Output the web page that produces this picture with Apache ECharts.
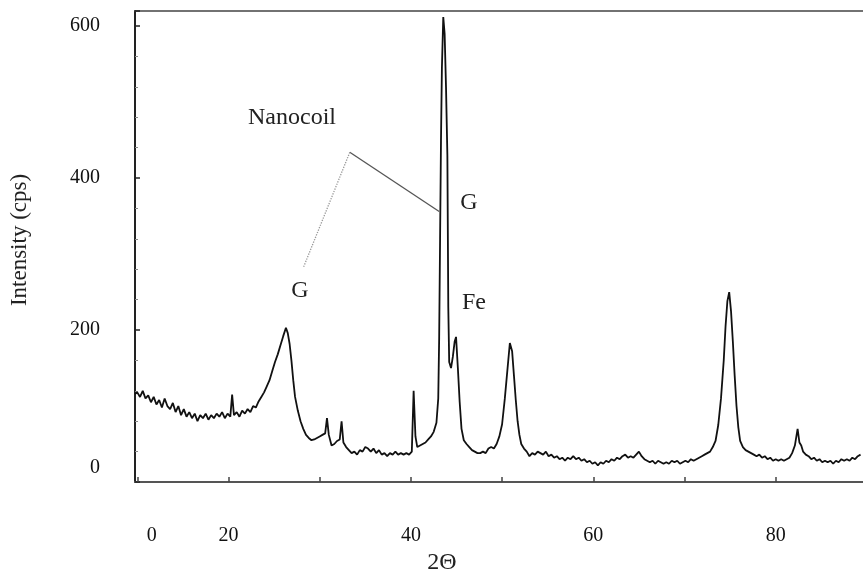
<!DOCTYPE html>
<html>
<head>
<meta charset="utf-8">
<script src="https://cdn.jsdelivr.net/npm/echarts@6/dist/echarts.min.js"></script>
<style>html,body{margin:0;padding:0;background:#fff}#c{width:863px;height:577px}</style>
</head>
<body>
<div id="c"></div>
<script>
var twoTheta = [9.75,10.0,10.3,10.6,10.9,11.2,11.5,11.8,12.1,12.4,12.7,13.0,13.3,13.6,13.9,14.2,14.5,14.8,15.1,15.4,15.7,16.0,16.3,16.6,16.9,17.2,17.5,17.8,18.1,18.4,18.7,19.0,19.3,19.6,19.9,20.2,20.4,20.6,20.9,21.2,21.5,21.8,22.1,22.4,22.7,23.0,23.3,23.6,23.9,24.2,24.5,24.8,25.1,25.4,25.7,26.0,26.3,26.5,26.7,26.9,27.1,27.3,27.6,27.9,28.2,28.5,28.8,29.1,29.4,29.7,30.0,30.3,30.6,30.8,31.0,31.3,31.6,31.9,32.2,32.4,32.6,32.9,33.2,33.5,33.8,34.1,34.4,34.7,35.0,35.3,35.6,35.9,36.2,36.5,36.8,37.1,37.4,37.7,38.0,38.3,38.6,38.9,39.2,39.5,39.8,40.1,40.3,40.5,40.7,41.0,41.3,41.6,41.9,42.2,42.5,42.8,43.0,43.1,43.2,43.3,43.4,43.55,43.7,43.85,44.0,44.1,44.2,44.4,44.6,44.8,44.95,45.15,45.35,45.55,45.8,46.1,46.4,46.7,47.0,47.3,47.6,47.9,48.2,48.5,48.8,49.1,49.4,49.7,50.0,50.3,50.6,50.85,51.1,51.3,51.5,51.7,51.9,52.1,52.4,52.7,53.0,53.3,53.6,53.9,54.2,54.5,54.8,55.1,55.4,55.7,56.0,56.3,56.6,56.9,57.2,57.5,57.8,58.1,58.4,58.7,59.0,59.3,59.6,59.9,60.2,60.5,60.8,61.1,61.4,61.7,62.0,62.3,62.6,62.9,63.2,63.5,63.8,64.1,64.4,64.7,65.0,65.3,65.6,65.9,66.2,66.5,66.8,67.1,67.4,67.7,68.0,68.3,68.6,68.9,69.2,69.5,69.8,70.1,70.4,70.7,71.0,71.3,71.6,71.9,72.2,72.5,72.8,73.1,73.4,73.7,74.0,74.3,74.5,74.7,74.9,75.1,75.3,75.5,75.7,75.9,76.1,76.4,76.7,77.0,77.3,77.6,77.9,78.2,78.5,78.8,79.1,79.4,79.7,80.0,80.3,80.6,80.9,81.2,81.5,81.8,82.1,82.4,82.6,82.8,83.0,83.3,83.6,83.9,84.2,84.5,84.8,85.1,85.4,85.7,86.0,86.3,86.6,86.9,87.2,87.5,87.8,88.1,88.4,88.7,89.0,89.3,89.57];
var intensity = [116,118,112,120,110,114,105,112,102,108,98,110,100,96,104,92,100,88,96,86,92,84,90,80,88,84,90,82,88,84,90,86,92,84,90,86,115,88,92,86,94,90,96,92,100,98,106,112,118,126,134,146,158,168,180,192,203,196,182,160,134,112,94,80,70,62,58,55,56,58,60,62,64,84,62,48,50,54,56,80,52,46,42,38,40,36,42,40,46,44,40,44,38,42,36,38,34,38,36,40,36,38,36,38,36,40,120,60,46,48,50,52,56,60,66,78,110,190,320,450,545,612,590,520,430,230,158,150,165,185,191,150,105,70,55,50,46,42,40,38,38,40,38,44,46,44,50,60,76,110,150,183,172,140,108,80,62,50,44,40,34,38,36,40,38,36,40,34,36,32,34,30,32,28,32,30,34,30,32,28,30,26,28,24,26,22,26,24,28,26,30,28,32,30,34,36,32,34,32,36,40,34,30,28,26,28,24,28,26,24,26,24,28,26,28,24,26,28,26,30,28,30,32,34,36,38,40,46,54,75,110,160,205,238,250,225,185,140,100,72,54,46,42,40,38,36,34,36,32,34,30,32,28,30,28,30,28,30,32,38,48,70,52,48,40,36,34,30,32,28,30,26,28,26,28,24,28,26,30,28,30,28,32,30,34,36];
var yTicks = [0,200,400,600];
var xTickValues = [10,20,30,40,50,60,70,80];
var xLabelValues = [11.6,20,40,60,80];
var xLabelTexts = ['0','20','40','60','80'];

var pts = twoTheta.map(function(t,i){return [t,intensity[i]];});
var serif = '"Liberation Serif", "DejaVu Serif", serif';
var chart = echarts.init(document.getElementById('c'));
chart.setOption({
  animation:false,
  backgroundColor:'#fff',
  grid:{left:135,top:11,width:728,height:471,containLabel:false},
  xAxis:[{
    type:'value',min:9.75,max:89.57,
    axisLine:{lineStyle:{color:'#555',width:2}},
    axisTick:{inside:true,length:5,customValues:xTickValues,lineStyle:{color:'#444',width:1.5}},
    splitLine:{show:false},
    axisLabel:{margin:44,color:'#111',fontFamily:serif,fontSize:20,customValues:xLabelValues,
      formatter:function(v){
        for(var i=0;i<xLabelValues.length;i++){if(Math.abs(xLabelValues[i]-v)<0.01)return xLabelTexts[i];}
        return '';}}
  },{
    type:'value',position:'top',min:9.75,max:89.57,
    axisLine:{show:true,onZero:false,lineStyle:{color:'#444',width:1.5}},
    axisTick:{show:false},axisLabel:{show:false},splitLine:{show:false}
  }],
  yAxis:{
    type:'value',min:0,max:620,interval:200,
    axisLine:{show:true,lineStyle:{color:'#222',width:2}},
    axisTick:{show:true,inside:true,length:5,lineStyle:{color:'#222',width:1.5}},
    minorTick:{show:true,splitNumber:5,length:3,lineStyle:{color:'#888'}},
    splitLine:{show:false},
    showMaxLabel:false,
    axisLabel:{margin:35,color:'#111',fontFamily:serif,fontSize:20,
      rich:{z:{fontFamily:serif,fontSize:20,color:'#111',padding:[0,0,28,0]}},
      formatter:function(v){
        if(v===0)return '{z|0}';
        return yTicks.indexOf(v)>=0?String(v):'';}}
  },
  series:[{
    type:'line',data:pts,showSymbol:false,symbol:'none',
    lineStyle:{color:'#111',width:1.8},
    markLine:{
      silent:true,symbol:['none','none'],label:{show:false},
      data:[
        [{coord:[33.3,434],lineStyle:{color:'#555',width:1.3,type:'solid'}},{coord:[43.1,356]}],
        [{coord:[33.3,434],lineStyle:{color:'#999',width:1.3,type:'dotted'}},{coord:[28.2,282]}]
      ]
    }
  }],
  graphic:[
    {type:'text',x:20,y:240,rotation:Math.PI/2,style:{text:'Intensity (cps)',font:'23px '+serif,fill:'#222',textAlign:'center',textVerticalAlign:'middle'}},
    {type:'text',x:442,y:563,style:{text:'2\u0398',font:'24px '+serif,fill:'#222',textAlign:'center',textVerticalAlign:'middle'}},
    {type:'text',x:292,y:118,style:{text:'Nanocoil',font:'24px '+serif,fill:'#222',textAlign:'center',textVerticalAlign:'middle'}},
    {type:'text',x:300,y:291,style:{text:'G',font:'24px '+serif,fill:'#222',textAlign:'center',textVerticalAlign:'middle'}},
    {type:'text',x:469,y:203,style:{text:'G',font:'24px '+serif,fill:'#222',textAlign:'center',textVerticalAlign:'middle'}},
    {type:'text',x:474,y:303,style:{text:'Fe',font:'24px '+serif,fill:'#222',textAlign:'center',textVerticalAlign:'middle'}}
  ]
});
</script>
</body>
</html>
